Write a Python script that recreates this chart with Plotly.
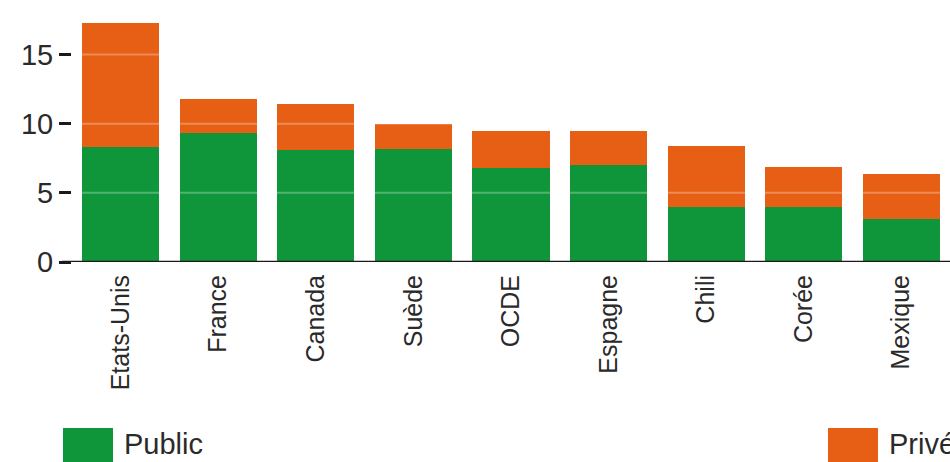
import plotly.graph_objects as go

categories = ["Etats-Unis", "France", "Canada", "Suède", "OCDE", "Espagne", "Chili", "Corée", "Mexique"]
public = [8.3, 9.3, 8.1, 8.2, 6.8, 7.0, 4.0, 4.0, 3.1]
prive = [9.0, 2.5, 3.3, 1.8, 2.7, 2.5, 4.4, 2.9, 3.3]
series_names = ["Public", "Privé"]
colors = ["#0F963A", "#E65F14"]
y_ticks = [0, 5, 10, 15]

W, H = 950, 462
L, R, T, B = 72, 0, 20, 200

fig = go.Figure()
for name, vals, col in zip(series_names, [public, prive], colors):
    fig.add_trace(go.Bar(x=categories, y=vals, name=name, marker_color=col,
                         marker_line_width=0, showlegend=False))

# light gridlines over bars
shapes = []
for t in y_ticks[1:]:
    shapes.append(dict(type="line", xref="paper", yref="y", x0=0, x1=1, y0=t, y1=t,
                       line=dict(color="rgba(255,255,255,0.28)", width=2), layer="above"))
# x axis line extending slightly to the left
shapes.append(dict(type="line", xref="paper", yref="y", x0=-10 / (W - L - R), x1=1, y0=0, y1=0,
                   line=dict(color="#1a1a1a", width=2.5), layer="above"))

# custom legend
pw = W - L - R
ph = H - T - B
def px_x(p):
    return (p - L) / pw
def px_y(p):
    return (H - B - p) / ph

annotations = []
legend_pos = [63, 828]
for name, col, x0 in zip(series_names, colors, legend_pos):
    shapes.append(dict(type="rect", xref="paper", yref="paper",
                       x0=px_x(x0), x1=px_x(x0 + 50), y0=px_y(428), y1=px_y(475),
                       fillcolor=col, line=dict(width=0), layer="above"))
    annotations.append(dict(xref="paper", yref="paper", x=px_x(x0 + 59), y=px_y(444),
                            text=name, showarrow=False, xanchor="left", yanchor="middle",
                            font=dict(family="Liberation Sans, Arial, sans-serif", size=29, color="#2a2a2a")))

fig.update_layout(
    width=W, height=H,
    margin=dict(l=L, r=R, t=T, b=B, pad=0),
    barmode="stack",
    bargap=0.21,
    plot_bgcolor="white",
    paper_bgcolor="white",
    shapes=shapes,
    annotations=annotations,
    xaxis=dict(
        tickangle=-90,
        tickfont=dict(family="Liberation Sans, Arial, sans-serif", size=25, color="#2a2a2a"),
        showgrid=False, showline=False, zeroline=False,
        ticks="outside", ticklen=2, tickcolor="rgba(0,0,0,0)",
        range=[-0.5, len(categories) - 0.5],
    ),
    yaxis=dict(
        range=[0, 17.5],
        tickvals=y_ticks,
        tickfont=dict(family="Liberation Sans, Arial, sans-serif", size=29, color="#2a2a2a"),
        showgrid=False, zeroline=False, showline=False,
        ticks="outside", ticklen=12, tickwidth=2.5, tickcolor="#1a1a1a",
    ),
)

fig.write_html("out.html")
